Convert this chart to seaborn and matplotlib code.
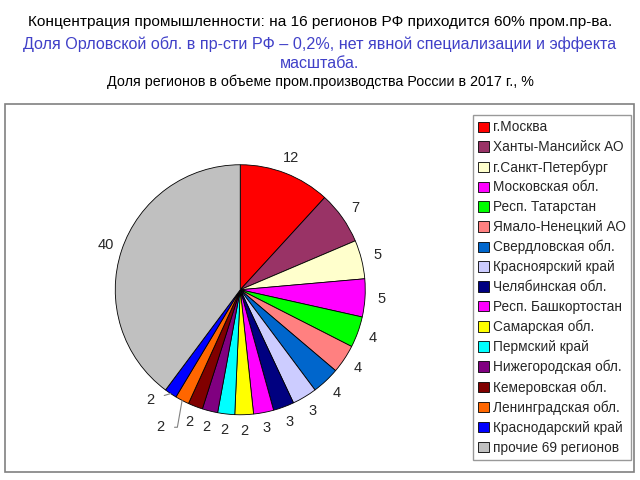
import matplotlib
matplotlib.use('Agg')
import numpy as np
import matplotlib.pyplot as plt
import seaborn as sns
from matplotlib.patches import Rectangle, Patch

# данные: доля регионов в пром.производстве РФ, 2017 г., %
regions = ['г.Москва', 'Ханты-Мансийск АО', 'г.Санкт-Петербург', 'Московская обл.',
           'Респ. Татарстан', 'Ямало-Ненецкий АО', 'Свердловская обл.', 'Красноярский край',
           'Челябинская обл.', 'Респ. Башкортостан', 'Самарская обл.', 'Пермский край',
           'Нижегородская обл.', 'Кемеровская обл.', 'Ленинградская обл.', 'Краснодарский край',
           'прочие 69 регионов']
shares = [11.8, 6.8, 5.0, 4.9, 4.0, 3.7, 3.6, 3.2, 2.7, 2.6, 2.4, 2.2, 2.0, 1.9, 1.8, 1.6, 39.8]
labels = ['12', '7', '5', '5', '4', '4', '4', '3', '3', '3', '2', '2', '2', '2', '2', '2', '40']
colors = ['#FF0000', '#993366', '#FFFFCC', '#FF00FF', '#00FF00', '#FF8080', '#0066CC',
          '#CCCCFF', '#000080', '#FF00FF', '#FFFF00', '#00FFFF', '#800080', '#800000',
          '#FF6600', '#0000FF', '#C0C0C0']

sns.set_theme(style='white')
plt.rcParams['font.family'] = ['Liberation Sans', 'DejaVu Sans']

fig = plt.figure(figsize=(6.4, 4.8), dpi=100)

# заголовки
fig.text(0.5, 0.954, 'Концентрация промышленности: на 16 регионов РФ приходится 60% пром.пр-ва.',
         ha='center', va='center', fontsize=11.1, color='black')
fig.text(0.5, 0.908, 'Доля Орловской обл. в пр-сти РФ – 0,2%, нет явной специализации и эффекта',
         ha='center', va='center', fontsize=11.6, color='#4040C8')
fig.text(0.5, 0.867, 'масштаба.', ha='center', va='center', fontsize=11.6, color='#4040C8')
fig.text(0.5, 0.829, 'Доля регионов в объеме пром.производства России в 2017 г., %',
         ha='center', va='center', fontsize=10.3, color='black')

# рамка области диаграммы
fig.patches.append(Rectangle((5 / 640, 8 / 480), 629 / 640, 368 / 480, transform=fig.transFigure,
                             fill=False, edgecolor='#808080', linewidth=1.2))

# круговая диаграмма
ax = fig.add_axes([84 / 640, 34 / 480, 312.5 / 640, 312.5 / 480])
wedges, _ = ax.pie(shares, colors=colors, startangle=90, counterclock=False,
                   wedgeprops=dict(edgecolor='black', linewidth=0.6))
ax.set_xlim(-1.25, 1.25)
ax.set_ylim(-1.25, 1.25)
ax.set_aspect('equal')
ax.axis('off')

# подписи значений
for i, (w, lab) in enumerate(zip(wedges, labels)):
    ang = np.deg2rad((w.theta1 + w.theta2) / 2)
    if i == 15:      # Краснодарский край
        ax.annotate(lab, xy=(np.cos(ang), np.sin(ang)), xytext=(-0.72, -0.88),
                    ha='center', va='center', fontsize=10.5,
                    arrowprops=dict(arrowstyle='-', color='#808080', lw=0.8, shrinkA=5, shrinkB=0))
    elif i == 14:    # Ленинградская обл.
        ax.annotate(lab, xy=(np.cos(ang), np.sin(ang)), xytext=(-0.64, -1.10),
                    ha='center', va='center', fontsize=10.5,
                    arrowprops=dict(arrowstyle='-', color='#808080', lw=0.8, shrinkA=5, shrinkB=0,
                                    connectionstyle='angle,angleA=0,angleB=80,rad=0'))
    else:
        r = 1.13
        ax.text(r * np.cos(ang), r * np.sin(ang), lab, ha='center', va='center', fontsize=10.5)

# легенда
handles = [Patch(facecolor=c, edgecolor='black', linewidth=0.6) for c in colors]
leg = fig.legend(handles, regions, loc='upper left', bbox_to_anchor=(473 / 640, 1 - 115 / 480),
                 borderaxespad=0, fontsize=9.8, frameon=True, fancybox=False,
                 edgecolor='#808080', labelspacing=0.43, handlelength=0.8, handleheight=0.8,
                 handletextpad=0.25, borderpad=0.4)
leg.get_frame().set_linewidth(1.0)

fig.savefig('out.png', dpi=100, facecolor='white')
